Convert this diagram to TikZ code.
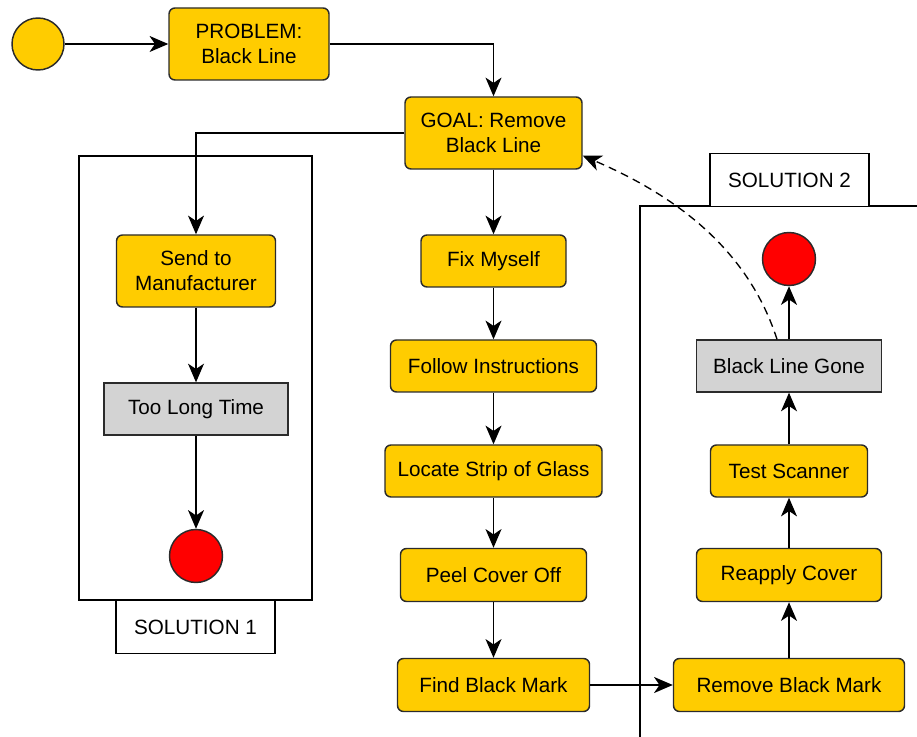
\documentclass[tikz,border=0pt]{standalone}
\usepackage{fontspec}
\setmainfont{Liberation Sans}
\usetikzlibrary{arrows.meta}
\definecolor{stepfill}{HTML}{FFCC00}
\definecolor{donefill}{HTML}{D3D3D3}
\definecolor{endfill}{HTML}{FF0000}
\definecolor{edgeclr}{HTML}{2B2B2B}
\tikzset{
  wh/.style 2 args={minimum width=#1*0.75pt, minimum height=#2*0.75pt},
  base/.style={inner sep=0pt, align=center, font=\fontsize{15.5}{18.75}\selectfont},
  stepbox/.style={base, draw=edgeclr, line width=1.1pt, fill=stepfill, rounded corners=4.5pt},
  donebox/.style={base, draw=edgeclr, line width=1pt, fill=donefill},
  labelbox/.style={base, draw=black, line width=0.9pt, fill=white},
  startdot/.style={circle, draw=edgeclr, line width=1.1pt, fill=stepfill, inner sep=0pt, minimum size=52*0.75pt},
  enddot/.style={circle, draw=edgeclr, line width=1.1pt, fill=endfill, inner sep=0pt, minimum size=53*0.75pt},
  frame/.style={draw=black, line width=1pt},
  flow/.style={draw=black, line width=1pt, -{Stealth[length=14pt, width=12pt, inset=4pt]}},
}
\begin{document}
\begin{tikzpicture}[x=0.75pt, y=-0.75pt]
  \useasboundingbox (0,0) rectangle (917,737);
  \clip (0,0) rectangle (917,737);

  % swimlane frames
  \draw[frame] (79,156) rectangle (312,600);
  \draw[frame] (930,206) -- (640,206) -- (640,750);
  \node[labelbox, wh={159}{53}] (lab1) at (195.5,627) {SOLUTION 1};
  \node[labelbox, wh={159}{53}] (lab2) at (789.5,180) {SOLUTION 2};

  % start and problem statement
  \node[startdot] (start) at (38,44) {};
  \node[stepbox, wh={160}{72}] (problem) at (249,44) {PROBLEM:\\Black Line};
  \node[stepbox, wh={177}{72}] (goal) at (493.5,133) {GOAL: Remove\\Black Line};

  % solution 1
  \node[stepbox, wh={159}{72}] (send) at (196,271) {Send to\\Manufacturer};
  \node[donebox, wh={184}{52}] (toolong) at (196,409) {Too Long Time};
  \node[enddot] (end1) at (196,556) {};

  % main column
  \node[stepbox, wh={145}{52}] (fix) at (493.5,261) {Fix Myself};
  \node[stepbox, wh={206}{52}] (follow) at (493.5,366) {Follow Instructions};
  \node[stepbox, wh={217}{52}] (locate) at (493.5,471) {Locate Strip of Glass};
  \node[stepbox, wh={186}{53}] (peel) at (493.5,575) {Peel Cover Off};
  \node[stepbox, wh={192}{53}] (findm) at (493.5,685) {Find Black Mark};

  % solution 2
  \node[stepbox, wh={231}{53}] (remm) at (789,685) {Remove Black Mark};
  \node[stepbox, wh={185}{53}] (reapply) at (789,575) {Reapply Cover};
  \node[stepbox, wh={157}{52}] (test) at (789,471) {Test Scanner};
  \node[donebox, wh={185}{52}] (gone) at (789,366) {Black Line Gone};
  \node[enddot] (end2) at (789,259) {};

  % connectors
  \draw[flow] (start) -- (problem);
  \draw[flow] (problem.east) -| (goal.north);
  \draw[flow] (goal.west) -| (send.north);
  \draw[flow] (send) -- (toolong);
  \draw[flow] (toolong) -- (end1);
  \draw[flow] (goal) -- (fix);
  \draw[flow] (fix) -- (follow);
  \draw[flow] (follow) -- (locate);
  \draw[flow] (locate) -- (peel);
  \draw[flow] (peel) -- (findm);
  \draw[flow] (findm) -- (remm);
  \draw[flow] (remm) -- (reapply);
  \draw[flow] (reapply) -- (test);
  \draw[flow] (test) -- (gone);
  \draw[flow] (gone) -- (end2);
  \draw[flow, dashed, dash pattern=on 6pt off 4pt]
    ([xshift=-9pt]gone.north) .. controls (745,240) and (662,190) .. ([yshift=-17pt]goal.east);
\end{tikzpicture}
\end{document}
